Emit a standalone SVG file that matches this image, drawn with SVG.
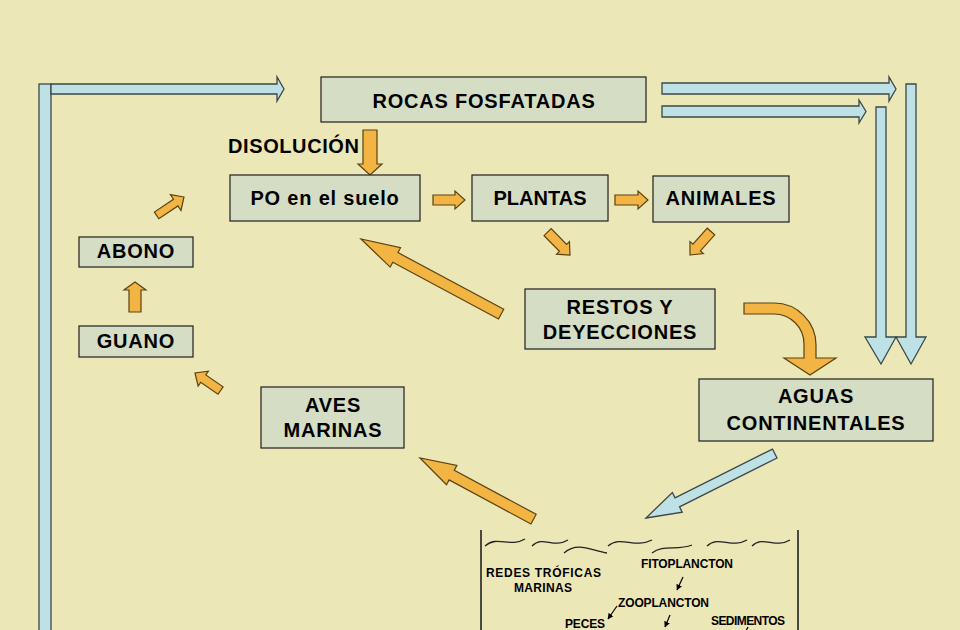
<svg xmlns="http://www.w3.org/2000/svg" width="960" height="630" viewBox="0 0 960 630">
<defs>
<style>
.bg{fill:#ECE7B6}
.box{fill:#D5DEC5;stroke:#1e1e1e;stroke-width:1.2}
.t{font-family:"Liberation Sans",Arial,sans-serif;font-weight:bold;font-size:20px;letter-spacing:0.8px;fill:#000;text-anchor:middle}
.lab{font-family:"Liberation Sans",Arial,sans-serif;font-weight:bold;font-size:20px;letter-spacing:0.6px;fill:#000}
.s{font-family:"Liberation Sans",Arial,sans-serif;font-weight:bold;font-size:12px;fill:#000}
.or{fill:#F2B443;stroke:#5a4212;stroke-width:1.2;stroke-linejoin:miter}
.bl{fill:#BEE1E6;stroke:#3b4848;stroke-width:1.3;stroke-linejoin:miter}
.wave{fill:none;stroke:#222;stroke-width:1.3}
.sea{stroke:#222;stroke-width:1.6}
.sa{stroke:#000;stroke-width:1.2;marker-end:url(#ah)}
</style>
<marker id="ah" viewBox="0 0 10 10" refX="9" refY="5" markerWidth="6" markerHeight="6" orient="auto" markerUnits="userSpaceOnUse">
<path d="M0,0 L10,5 L0,10 Z" fill="#000"/>
</marker>
</defs>
<rect class="bg" x="0" y="0" width="960" height="630"/>

<g id="connectors">
<rect class="bl" x="39" y="84" width="12" height="560"/>
<path class="bl" d="M51,84 H277 V77 L284,89 L277,101 V94 H51 Z"/>
<path class="bl" d="M662,83 H889 V77 L896,89 L889,101 V94 H662 Z"/>
<path class="bl" d="M662,106 H859 V100 L866,111.5 L859,123 V117 H662 Z"/>
<path class="bl" d="M876,107 H886 V337 H896 L881,364 L865,337 H876 Z"/>
<path class="bl" d="M906,84 H916 V337 H926 L911,364 L896,337 H906 Z"/>
<path class="bl" transform="translate(646,518) rotate(153.4)" d="M0,0 L-35,-11 L-35,-5 L-144,-5 L-144,5 L-35,5 L-35,11 Z"/>
<path class="or" d="M363,130 H377 V164 H382 L370,175 L358,164 H363 Z"/>
<path class="or" d="M433,195 H455 V191 L465,200 L455,209 V205 H433 Z"/>
<path class="or" d="M615,195 H638 V191 L648,200 L638,209 V205 H615 Z"/>
<path class="or" transform="translate(570,255) rotate(45.6)" d="M0,0 L-10,-9 L-10,-5 L-32,-5 L-32,5 L-10,5 L-10,9 Z"/>
<path class="or" transform="translate(690,255) rotate(131.8)" d="M0,0 L-10,-9 L-10,-5 L-31.5,-5 L-31.5,5 L-10,5 L-10,9 Z"/>
<path class="or" transform="translate(361,239) rotate(208.2)" d="M0,0 L-39,-11 L-39,-5.5 L-159,-5.5 L-159,5.5 L-39,5.5 L-39,11 Z"/>
<path class="or" transform="translate(420,458) rotate(208.3)" d="M0,0 L-36,-11 L-36,-5.5 L-129,-5.5 L-129,5.5 L-36,5.5 L-36,11 Z"/>
<path class="or" transform="translate(195,373) rotate(214.5)" d="M0,0 L-10,-9 L-10,-4.5 L-31,-4.5 L-31,4.5 L-10,4.5 L-10,9 Z"/>
<path class="or" d="M129,312 V290 H124 L135,282 L146,290 H141 V312 Z"/>
<path class="or" transform="translate(184,197) rotate(-33.9)" d="M0,0 L-10,-9.5 L-10,-4 L-33,-4 L-33,4 L-10,4 L-10,9.5 Z"/>
<path class="or" d="M744,303 H774 A42,42 0 0 1 816,345 V358 H836 L810,375 L784,358 H804 V344 A30,30 0 0 0 774,314 H744 Z"/>
</g>

<text class="lab" x="228" y="153">DISOLUCIÓN</text>

<g id="rocas"><rect class="box" x="321" y="77" width="325" height="45"/><text class="t" x="484" y="108">ROCAS FOSFATADAS</text></g>
<g id="po"><rect class="box" x="230" y="175" width="190" height="46"/><text class="t" x="325" y="205">PO en el suelo</text></g>
<g id="plantas"><rect class="box" x="472" y="175" width="136" height="46"/><text class="t" x="540" y="205" style="letter-spacing:0">PLANTAS</text></g>
<g id="animales"><rect class="box" x="653" y="176" width="136" height="46"/><text class="t" x="721" y="205">ANIMALES</text></g>
<g id="abono"><rect class="box" x="79" y="237" width="114" height="30"/><text class="t" x="136" y="258">ABONO</text></g>
<g id="guano"><rect class="box" x="79" y="326" width="114" height="31"/><text class="t" x="136" y="348">GUANO</text></g>
<g id="restos"><rect class="box" x="525" y="289" width="190" height="60"/><text class="t" x="620" y="314">RESTOS Y</text><text class="t" x="620" y="339">DEYECCIONES</text></g>
<g id="aguas"><rect class="box" x="699" y="379" width="234" height="62"/><text class="t" x="816" y="403">AGUAS</text><text class="t" x="816" y="430">CONTINENTALES</text></g>
<g id="aves"><rect class="box" x="261" y="387" width="143" height="61"/><text class="t" x="333" y="412">AVES</text><text class="t" x="333" y="437">MARINAS</text></g>

<g id="mar">
<line class="sea" x1="481" y1="530" x2="481" y2="640"/>
<line class="sea" x1="798" y1="530" x2="798" y2="640"/>
<path class="wave" d="M485,546 C497,535 510,548 525,539"/>
<path class="wave" d="M532,546 C543,535 553,549 568,540"/>
<path class="wave" d="M564,553 C578,541 592,551 607,553"/>
<path class="wave" d="M608,546 C621,535 634,549 652,540"/>
<path class="wave" d="M652,553 C663,544 677,551 692,545"/>
<path class="wave" d="M707,546 C719,535 731,549 747,540"/>
<path class="wave" d="M752,546 C763,535 775,549 790,540"/>
<text class="s" x="486" y="577" textLength="115" lengthAdjust="spacing">REDES TRÓFICAS</text>
<text class="s" x="514" y="592" textLength="58" lengthAdjust="spacing">MARINAS</text>
<text class="s" x="641" y="568" textLength="92" lengthAdjust="spacing">FITOPLANCTON</text>
<text class="s" x="618" y="607" textLength="91" lengthAdjust="spacing">ZOOPLANCTON</text>
<text class="s" x="565" y="628" textLength="40" lengthAdjust="spacing">PECES</text>
<text class="s" x="711" y="625" textLength="74" lengthAdjust="spacing">SEDIMENTOS</text>
<line class="sa" x1="683" y1="577" x2="677" y2="590"/>
<line class="sa" x1="617" y1="606" x2="608" y2="619"/>
<line class="sa" x1="670" y1="615" x2="665" y2="627"/>
<line x1="748" y1="627" x2="746" y2="631" stroke="#000" stroke-width="1.2"/>
</g>
</svg>
